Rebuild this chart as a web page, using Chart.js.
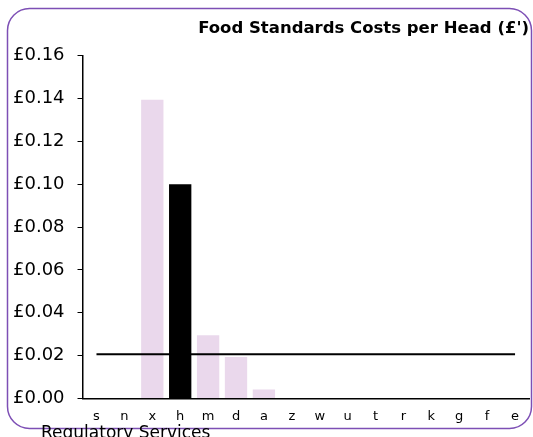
<!DOCTYPE html>
<html>
<head>
<meta charset="utf-8">
<script src="https://cdn.jsdelivr.net/npm/chart.js@4"></script>
<style>
  html, body { margin: 0; padding: 0; background: #fff; }
  #wrap { width: 533px; height: 437px; position: relative; }
</style>
</head>
<body>
<div id="wrap"><canvas id="chart" width="533" height="437"></canvas></div>
<script>
const ctx = document.getElementById("chart").getContext("2d");

// data
var categories = ["s", "n", "x", "h", "m", "d", "a", "z", "w", "u", "t", "r", "k", "g", "f", "e"];
var costs = [0, 0, 0.1395, 0.1, 0.0295, 0.0193, 0.0041, 0, 0, 0, 0, 0, 0, 0, 0, 0];
var average = [0.0206, 0.0206, 0.0206, 0.0206, 0.0206, 0.0206, 0.0206, 0.0206,
               0.0206, 0.0206, 0.0206, 0.0206, 0.0206, 0.0206, 0.0206, 0.0206];
var highlight = "h";
var yTicks = [0, 0.02, 0.04, 0.06, 0.08, 0.1, 0.12, 0.14, 0.16];

var barColors = categories.map(function (c) {
  return c == highlight ? "#000000" : "#ead8ec";
});

// rounded purple frame + the footer text
const framePlugin = {
  id: "frame",
  beforeDraw(chart) {
    const c = chart.ctx;
    c.save();
    c.strokeStyle = "#7d4fb5";
    c.lineWidth = 1.5;
    c.beginPath();
    c.roundRect(7.5, 8.5, 524, 420, 22);
    c.stroke();
    c.restore();
  },
  afterDraw(chart) {
    const c = chart.ctx;
    c.save();
    c.fillStyle = "#000";
    c.font = "17px 'DejaVu Sans'";
    c.textBaseline = "alphabetic";
    c.fillText("Regulatory Services", 41, 438);
    c.restore();
  },
};

var data = {
  labels: categories,
  datasets: [
    {
      type: "line",
      data: average,
      borderColor: "#000",
      borderWidth: 2,
      pointRadius: 0,
      fill: false,
      order: 0,
    },
    {
      type: "bar",
      data: costs,
      backgroundColor: barColors,
      categoryPercentage: 1,
      barPercentage: 0.8,
      order: 1,
    },
  ],
};

const config = {
  type: "bar",
  data,
  plugins: [framePlugin],
  options: {
    responsive: false,
    animation: false,
    layout: { padding: { left: 0, right: 4, top: 0, bottom: 3 } },
    plugins: {
      legend: { display: false },
      tooltip: { enabled: false },
      title: {
        display: true,
        text: "Food Standards Costs per Head (£')",
        align: "end",
        color: "#000",
        font: { family: "DejaVu Sans", size: 16.5, weight: "bold" },
        padding: { top: 19, bottom: 17 },
      },
    },
    scales: {
      x: {
        grid: { display: false, drawTicks: false },
        border: { color: "#000", width: 1.5 },
        ticks: {
          color: "#000",
          padding: 10,
          autoSkip: false,
          maxRotation: 0,
          font: { family: "DejaVu Sans", size: 13 },
        },
      },
      y: {
        min: 0,
        max: 0.16,
        afterBuildTicks: function (axis) {
          axis.ticks = yTicks.map(function (v) { return { value: v }; });
        },
        grid: { drawOnChartArea: false, tickLength: 5, color: "#000" },
        border: { color: "#000", width: 1.5 },
        ticks: {
          color: "#000",
          padding: 13,
          font: { family: "DejaVu Sans", size: 18 },
          callback: function (v) { return "£" + Number(v).toFixed(2); },
        },
      },
    },
  },
};

var myChart = new Chart(ctx, config);
</script>
</body>
</html>
